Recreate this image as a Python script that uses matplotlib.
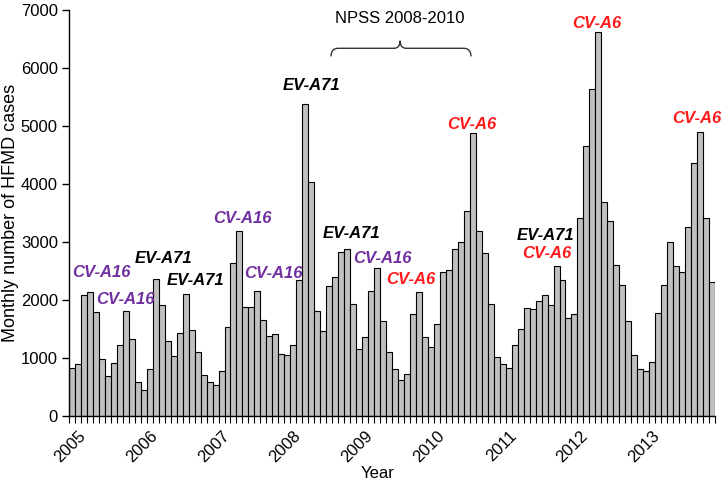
import matplotlib
matplotlib.use('Agg')
import matplotlib.pyplot as plt
from matplotlib.path import Path
from matplotlib.patches import PathPatch

# Monthly HFMD cases, Jan..Dec of each year
CASES_2005 = [827, 896, 2092, 2133, 1792, 988, 688, 913, 1220, 1809, 1329, 590]
CASES_2006 = [445, 803, 2358, 1913, 1289, 1040, 1428, 2110, 1491, 1110, 699, 578]
CASES_2007 = [538, 769, 1538, 2636, 3185, 1879, 1879, 2150, 1647, 1376, 1416, 1075]
CASES_2008 = [1058, 1231, 2341, 5380, 4040, 1803, 1468, 2243, 2399, 2821, 2884, 1936]
CASES_2009 = [1150, 1364, 2150, 2549, 1630, 1104, 809, 624, 717, 1751, 2145, 1358]
CASES_2010 = [1185, 1590, 2486, 2520, 2879, 3006, 3538, 4884, 3197, 2809, 1931, 1012]
CASES_2011 = [896, 827, 1220, 1503, 1867, 1838, 1977, 2092, 1913, 2584, 2341, 1682]
CASES_2012 = [1763, 3422, 4653, 5642, 6627, 3688, 3370, 2601, 2260, 1630, 1058, 815]
CASES_2013 = [769, 931, 1780, 2260, 3006, 2584, 2491, 3254, 4370, 4902, 3416, 2312]
YEARS = ['2005', '2006', '2007', '2008', '2009', '2010', '2011', '2012', '2013']

# serotype annotations: (text, month index, level, colour)
LABEL_TEXT = ['CV-A16', 'CV-A16', 'EV-A71', 'EV-A71', 'CV-A16', 'CV-A16', 'EV-A71',
              'EV-A71', 'CV-A16', 'CV-A6', 'CV-A6', 'EV-A71', 'CV-A6', 'CV-A6', 'CV-A6']
LABEL_X = [5.0, 9.0, 15.3, 20.6, 28.5, 33.7, 40.0, 46.7, 51.9, 56.7, 66.8, 79.1, 79.3, 87.8, 104.4]
LABEL_Y = [2473, 2003, 2723, 2332, 3402, 2464, 5699, 3143, 2723, 2349, 5026, 3110, 2798, 6764, 5138]
PURPLE = '#7030A0'
RED = '#FF1A1A'
LABEL_COLOR = [PURPLE, PURPLE, 'black', 'black', PURPLE, PURPLE, 'black',
               'black', PURPLE, RED, RED, 'black', RED, RED, RED]

cases = (CASES_2005 + CASES_2006 + CASES_2007 + CASES_2008 + CASES_2009 +
         CASES_2010 + CASES_2011 + CASES_2012 + CASES_2013)
months = list(range(len(cases)))

plt.rcParams['font.family'] = ['Liberation Sans', 'DejaVu Sans']
fig = plt.figure(figsize=(7.23, 4.88), dpi=100)
ax = fig.add_axes([0.0954, 0.1475, 0.8936, 0.832])

ax.bar(months, cases, width=1.0, color='#C0C0C0', edgecolor='black', linewidth=0.8)
ax.set_xlim(-0.5, len(cases) - 0.5)
ax.set_ylim(0, 7000)

ax.spines['top'].set_visible(False)
ax.spines['right'].set_visible(False)
ax.spines['left'].set_linewidth(1.0)
ax.spines['bottom'].set_linewidth(1.0)

ax.set_yticks(range(0, 7001, 1000))
ax.tick_params(axis='y', direction='out', length=5, width=1, labelsize=12, pad=3)
ax.set_xticks([m - 0.5 for m in range(len(cases) + 1)])
ax.set_xticklabels([])
ax.tick_params(axis='x', direction='out', length=5, width=0.8)

for k, yr in enumerate(YEARS):
    ax.text(12 * k + 1.0, -0.03, yr, transform=ax.get_xaxis_transform(),
            rotation=45, rotation_mode='anchor', ha='right', va='top', fontsize=12)

ax.set_ylabel('Monthly number of HFMD cases', fontsize=13)
ax.yaxis.set_label_coords(-0.078, 0.5)
fig.text(0.522, 0.03, 'Year', ha='center', va='center', fontsize=12)

for t, x, y, c in zip(LABEL_TEXT, LABEL_X, LABEL_Y, LABEL_COLOR):
    ax.text(x, y, t, color=c, fontsize=12, fontweight='bold', fontstyle='italic',
            ha='center', va='center', clip_on=False)

# NPSS bracket
x0, x1, xm = 43.3, 66.7, 54.85
yb, yh, yt = 6200, 6340, 6470
verts = [(x0, yb), (x0, yh), (x0 + 1.2, yh),
         (xm - 1.0, yh), (xm, yh), (xm, yt),
         (xm, yh), (xm + 1.0, yh),
         (x1 - 1.2, yh), (x1, yh), (x1, yb)]
codes = [Path.MOVETO, Path.CURVE3, Path.CURVE3,
         Path.LINETO, Path.CURVE3, Path.CURVE3,
         Path.CURVE3, Path.CURVE3,
         Path.LINETO, Path.CURVE3, Path.CURVE3]
ax.add_patch(PathPatch(Path(verts, codes), facecolor='none', edgecolor='#333333',
                       linewidth=1.0, clip_on=False))
ax.text(xm, 6851, 'NPSS 2008-2010', fontsize=12, ha='center', va='center')

fig.savefig('out.png', dpi=100)
